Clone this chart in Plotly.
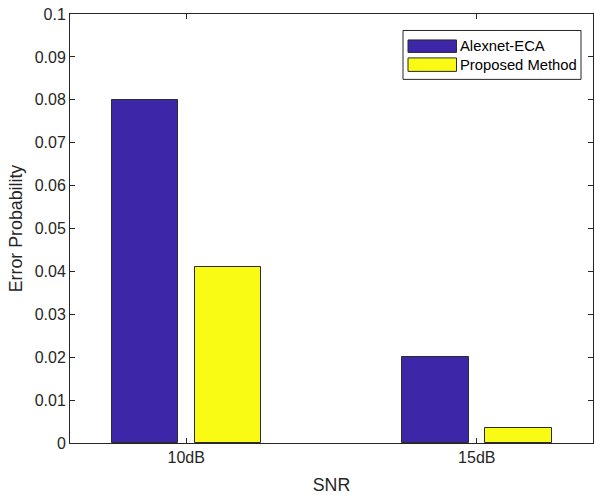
import plotly.graph_objects as go

# Data
categories = ["10dB", "15dB"]
series_names = ["Alexnet-ECA", "Proposed Method"]
alexnet_eca = [0.08, 0.02]
proposed = [0.041, 0.0035]
y_ticks = [0, 0.01, 0.02, 0.03, 0.04, 0.05, 0.06, 0.07, 0.08, 0.09, 0.1]
y_tick_labels = ["0", "0.01", "0.02", "0.03", "0.04", "0.05", "0.06", "0.07", "0.08", "0.09", "0.1"]

colors = ["#3E26A8", "#F9FB15"]
edge = "#2b2b2b"
axis_col = "#262626"
font_family = "Liberation Sans, Arial, sans-serif"

W, H = 594, 495
L, R, T, B = 70, 1, 13.5, 51.7

x_idx = list(range(len(categories)))
bar_w = 0.229
offsets = [-0.257, 0.029]

fig = go.Figure()
for name, vals, col, off in zip(series_names, [alexnet_eca, proposed], colors, offsets):
    fig.add_trace(go.Bar(
        x=x_idx, y=vals, name=name, width=bar_w, offset=off,
        marker=dict(color=col, line=dict(color=edge, width=1)),
        showlegend=False,
    ))

fig.update_layout(
    width=W, height=H,
    margin=dict(l=L, r=R, t=T, b=B, pad=0),
    paper_bgcolor="white", plot_bgcolor="white",
    font=dict(family=font_family, size=16, color=axis_col),
    bargap=0,
)
fig.update_xaxes(
    range=[-0.4, 1.4], tickvals=x_idx, ticktext=categories,
    showline=True, linecolor=axis_col, linewidth=1, mirror="ticks",
    ticks="inside", ticklen=5, tickcolor=axis_col, showgrid=False, zeroline=False,
    tickfont=dict(size=16, color=axis_col),
    title=dict(text="SNR", font=dict(size=17.8, color=axis_col), standoff=14),
)
fig.update_yaxes(
    range=[0, 0.1], tickvals=y_ticks, ticktext=y_tick_labels,
    showline=True, linecolor=axis_col, linewidth=1, mirror="ticks",
    ticks="inside", ticklen=5, tickcolor=axis_col, showgrid=False, zeroline=False,
    tickfont=dict(size=16, color=axis_col),
    title=dict(text="Error Probability", font=dict(size=17.8, color=axis_col), standoff=7),
)

# Legend box placed in pixel-derived paper coordinates
pw, ph = W - L - R, H - T - B
def px(x):
    return (x - L) / pw
def py(y):
    return 1 - (y - T) / ph

box = dict(x0=403, x1=581, y0=30, y1=79)
fig.add_shape(type="rect", xref="paper", yref="paper",
              x0=px(box["x0"]), x1=px(box["x1"]), y0=py(box["y1"]), y1=py(box["y0"]),
              line=dict(color=axis_col, width=1), fillcolor="white", layer="above")
rows = [(39.5, 52), (57.5, 71)]
for (y0, y1), name, col in zip(rows, series_names, colors):
    fig.add_shape(type="rect", xref="paper", yref="paper",
                  x0=px(408), x1=px(456.5), y0=py(y1), y1=py(y0),
                  line=dict(color=edge, width=1), fillcolor=col, layer="above")
    fig.add_annotation(xref="paper", yref="paper", x=px(458), y=py((y0 + y1) / 2),
                       text=name, showarrow=False, xanchor="left", yanchor="middle",
                       font=dict(size=14.8, color="#000000", family=font_family))

fig.write_html("out.html")
